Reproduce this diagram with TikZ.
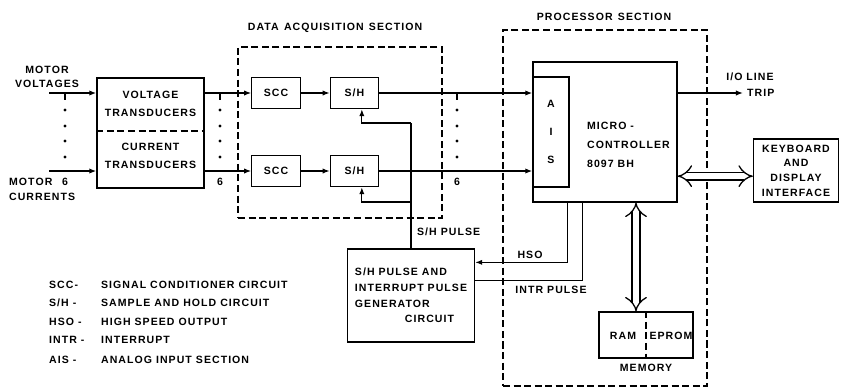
\documentclass[tikz,border=0pt]{standalone}
\usepackage{fontspec}
\newfontfamily\diagfont{Liberation Sans}[LetterSpace=10]
\newcommand\dgf[1]{\diagfont\bfseries\fontsize{9}{#1}\selectfont}
\usetikzlibrary{arrows.meta, positioning}

\begin{document}
\begin{tikzpicture}[
    x=0.03cm, y=-0.03cm,
    every node/.style={font=\dgf{14}},
    blk/.style={
        draw, line width=1.1pt,
        align=center, inner sep=0pt
    },
    sect/.style={
        draw, line width=1.1pt,
        dash pattern=on 6pt off 3pt
    },
    arr/.style={
        -{Latex[length=6pt,width=4.5pt]},
        line width=1.1pt
    },
    wire/.style={line width=1.1pt},
    dbl/.style={
        {Implies[scale=1.5]}-{Implies[scale=1.5]},
        double, double distance=5.5pt,
        line width=1.1pt
    },
    lgab/.style={anchor=west}
]
\useasboundingbox (0,0) rectangle (841,389);

%% ── Section frames ──────────────────────────────────────────────────
\node[sect, minimum width=6.12cm, minimum height=5.13cm] (das) at (340,132.5) {};
\node (dastitle) at (335,28) {DATA\enspace ACQUISITION\enspace SECTION};

\node[sect, minimum width=6.12cm, minimum height=10.68cm] (ps) at (605,208) {};
\node (pstitle) at (604,17) {PROCESSOR\enspace SECTION};

%% ── Transducers ─────────────────────────────────────────────────────
\node[blk, minimum width=3.21cm, minimum height=3.3cm] (tr) at (150.5,133) {};
\node[align=center, font=\dgf{15}] (vt) at (150.5,104) {VOLTAGE\\TRANSDUCERS};
\node[align=center, font=\dgf{15}] (ct) at (150.5,156) {CURRENT\\TRANSDUCERS};
\coordinate (div) at (150.5,131);
\draw[wire, dash pattern=on 6pt off 3pt] (tr.west |- div) -- (tr.east |- div);

\node[align=center, font=\dgf{12}] (mvlbl) at (47,77) {MOTOR\\VOLTAGES};
\node[anchor=west, align=left, font=\dgf{13}] (milbl) at (5,189.5) {MOTOR\\CURRENTS};

\coordinate (mv) at (49,93);
\coordinate (mi) at (49,171);
\draw[arr] (mv) -- (mv -| tr.west);
\draw[arr] (mi) -- (mi -| tr.west);

%% ── Data acquisition blocks ─────────────────────────────────────────
\node[blk, minimum width=1.45cm, minimum height=0.93cm] (scc1) at (276,93) {SCC};
\node[blk, minimum width=1.45cm, minimum height=0.93cm] (sh1) at (354.5,93) {S/H};
\node[blk, minimum width=1.45cm, minimum height=0.93cm] (scc2) at (276,171) {SCC};
\node[blk, minimum width=1.45cm, minimum height=0.93cm] (sh2) at (354.5,171) {S/H};

\draw[arr] (tr.east |- scc1) -- (scc1.west);
\draw[arr] (tr.east |- scc2) -- (scc2.west);
\draw[arr] (scc1.east) -- (sh1.west);
\draw[arr] (scc2.east) -- (sh2.west);

%% ── Processor ───────────────────────────────────────────────────────
\node[blk, minimum width=4.32cm, minimum height=4.2cm] (mc) at (605,132) {};
\node[blk, minimum width=1.08cm, minimum height=3.3cm] (ais) at (551,132) {A\\[10pt]I\\[10pt]S};
\node[anchor=west, align=left, font=\dgf{16}] (mctxt) at (583,145) {MICRO -\\CONTROLLER\\8097 BH};

\draw[arr] (sh1.east) -- (sh1.east -| mc.west);
\draw[arr] (sh2.east) -- (sh2.east -| mc.west);

%% ── Channel marks ───────────────────────────────────────────────────
\foreach \tx in {65,220,457} {
    \draw[wire] (\tx,93) -- (\tx,100);
    \foreach \ty in {110,126,141,157}
        \fill (\tx,\ty) circle (1.3pt);
    \node (six\tx) at (\tx,182) {6};
}

%% ── Pulse generator ─────────────────────────────────────────────────
\node[blk, minimum width=3.81cm, minimum height=2.79cm, align=left, font=\dgf{13.5}]
    (pg) at (411,295.5) {S/H PULSE AND\\INTERRUPT PULSE\\GENERATOR\\\hspace*{1.5cm}CIRCUIT};

\coordinate (fb1) at (411,123);
\coordinate (fb2) at (411,202);
\draw[wire] (pg.north) -- (fb1);
\draw[arr] (fb1) -| ([xshift=2.2mm]sh1.south);
\draw[arr] (fb2) -| ([xshift=2.2mm]sh2.south);
\node[anchor=west] (shplbl) at (413,232) {S/H PULSE};

\draw[arr] ([xshift=1.05cm]mc.south west) |- ([yshift=-4.2mm]pg.north east);
\draw[wire] ([yshift=-9.6mm]pg.north east) -| ([xshift=1.5cm]mc.south west);
\node (hsolbl) at (530,255) {HSO};
\node (intrlbl) at (551,290) {INTR PULSE};

%% ── I/O line ────────────────────────────────────────────────────────
\coordinate (io) at (743,93);
\draw[arr] (mc.east |- io) -- (io);
\node[right=0pt of io] (trip) {TRIP};
\node (iolbl) at (750,77) {I/O LINE};

%% ── Keyboard and display ────────────────────────────────────────────
\node[blk, minimum width=2.55cm, minimum height=1.89cm, font=\dgf{12.5}]
    (kb) at (796,170.5) {KEYBOARD\\AND\\DISPLAY\\INTERFACE};
\coordinate (kbin) at ([yshift=-1.7mm]kb.west);
\draw[dbl] (mc.east |- kbin) -- (kbin);

%% ── Memory ──────────────────────────────────────────────────────────
\node[blk, minimum width=2.82cm, minimum height=1.38cm] (mem) at (646,335) {};
\draw[wire, dash pattern=on 6pt off 3pt] (mem.north) -- (mem.south);
\node (ram) at (623,336) {RAM};
\node (eprom) at (671,336) {EPROM};
\node[below=1pt of mem] (memlbl) {MEMORY};

\coordinate (memin) at ([xshift=-3mm]mem.north);
\draw[dbl] (mc.south -| memin) -- (memin);

%% ── Legend ──────────────────────────────────────────────────────────
\node[lgab] (lg1a) at (45,285) {SCC-};
\node[lgab] (lg1b) at (97,285) {SIGNAL CONDITIONER CIRCUIT};
\node[lgab] (lg2a) at (45,303) {S/H -};
\node[lgab] (lg2b) at (97,303) {SAMPLE AND HOLD CIRCUIT};
\node[lgab] (lg3a) at (45,322) {HSO -};
\node[lgab] (lg3b) at (97,322) {HIGH SPEED OUTPUT};
\node[lgab] (lg4a) at (45,340) {INTR -};
\node[lgab] (lg4b) at (97,340) {INTERRUPT};
\node[lgab] (lg5a) at (45,360) {AIS -};
\node[lgab] (lg5b) at (97,360) {ANALOG INPUT SECTION};

\end{tikzpicture}
\end{document}
